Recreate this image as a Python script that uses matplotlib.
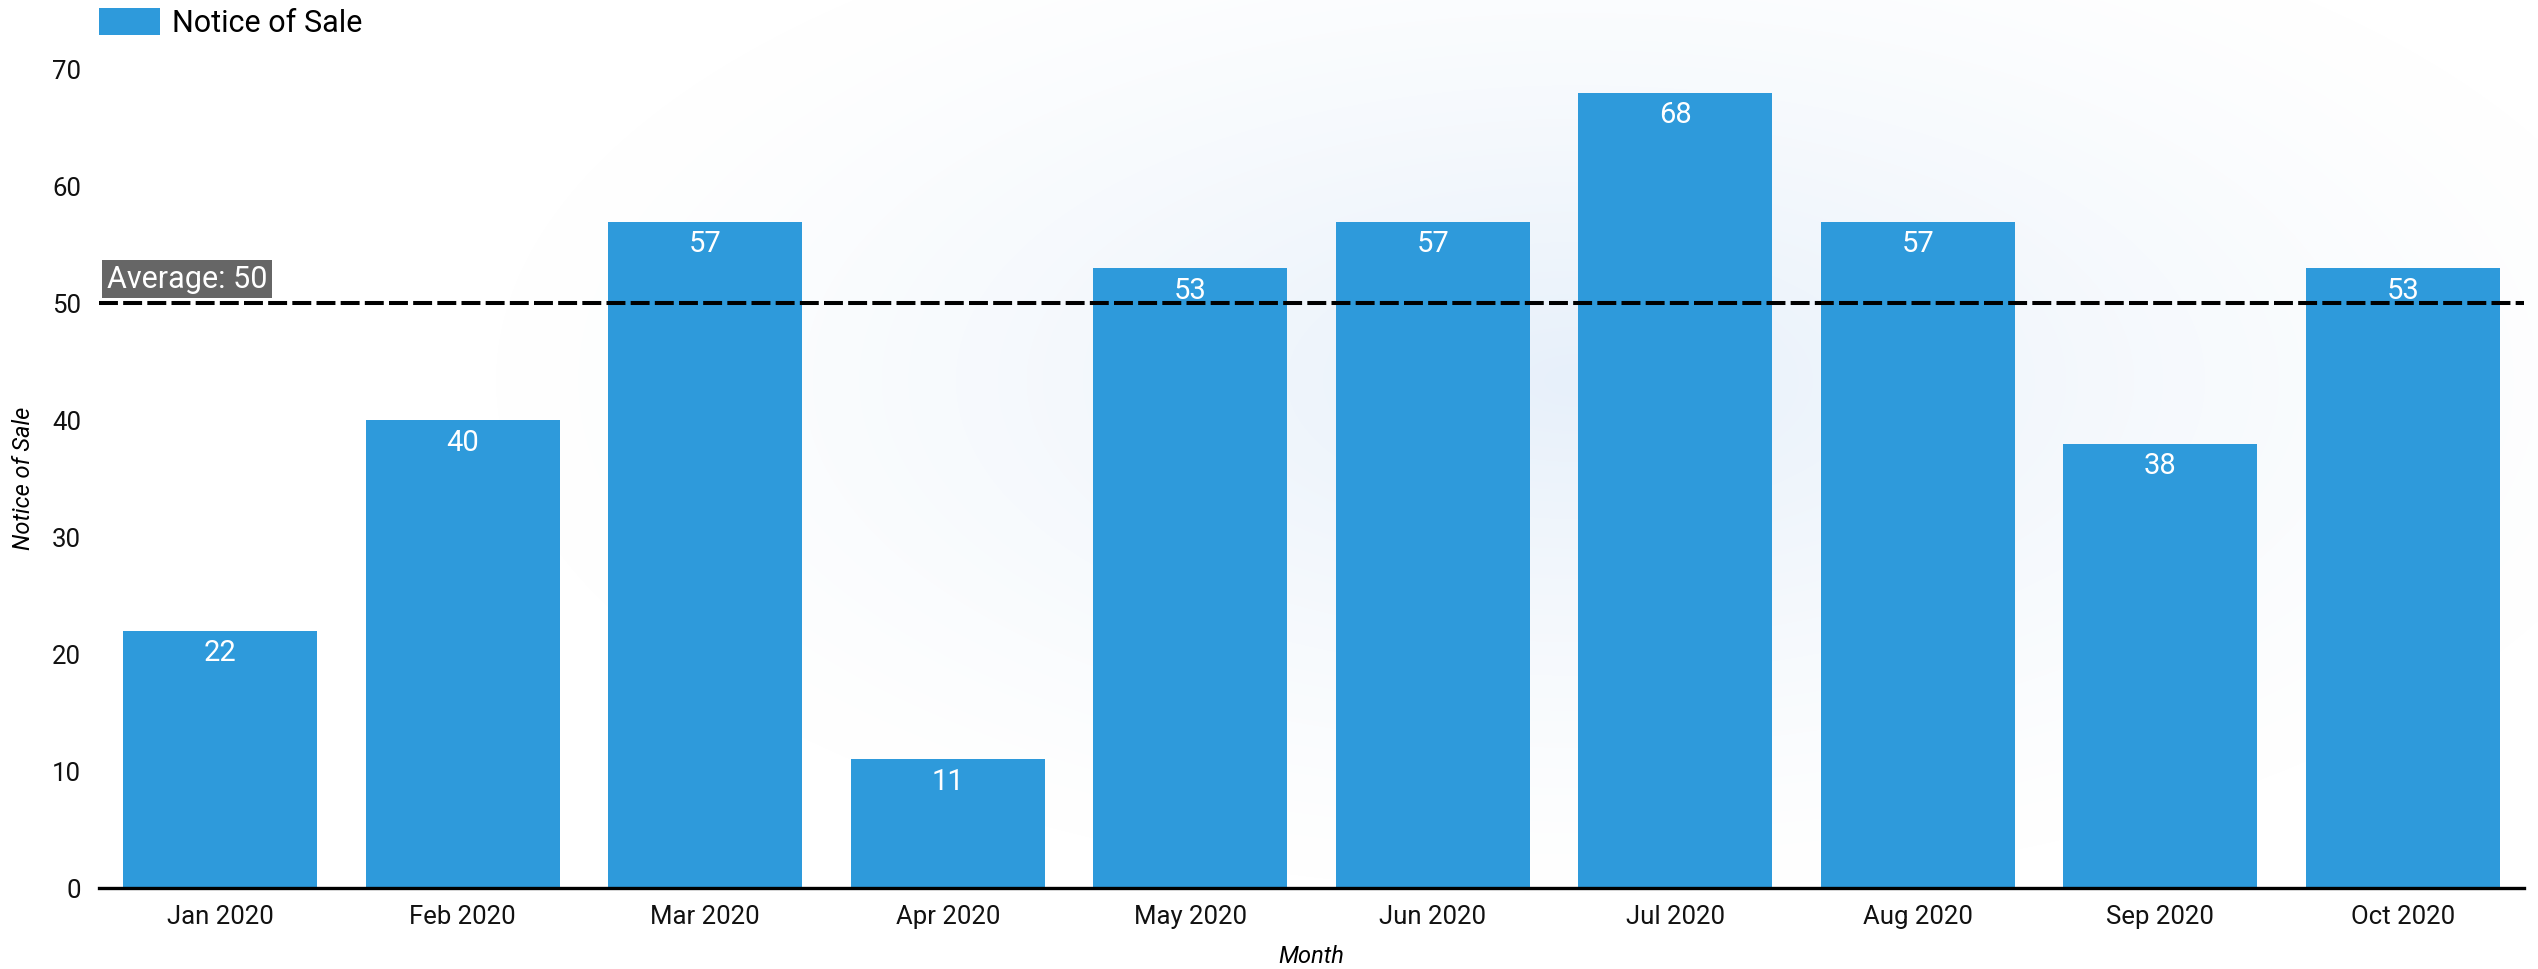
import numpy as np
import matplotlib.pyplot as plt
from matplotlib.colors import LinearSegmentedColormap

plt.rcParams['font.family'] = ['Roboto', 'DejaVu Sans']

months = ["Jan 2020", "Feb 2020", "Mar 2020", "Apr 2020", "May 2020",
          "Jun 2020", "Jul 2020", "Aug 2020", "Sep 2020", "Oct 2020"]
notices = [22, 40, 57, 11, 53, 57, 68, 57, 38, 53]
average = 50

bar_color = "#2E9ADB"

W, H = 2538, 969
fig = plt.figure(figsize=(W / 100, H / 100), dpi=100)

# faint radial glow behind the chart
bg = fig.add_axes([0, 0, 1, 1], zorder=0)
yy, xx = np.mgrid[0:H, 0:W]
d = np.sqrt(((xx - 1580) / 1100.0) ** 2 + ((yy - 380) / 520.0) ** 2)
glow = np.clip(1 - d, 0, 1) ** 1.3
cmap = LinearSegmentedColormap.from_list("glow", ["#ffffff", "#e7f0fa"])
bg.imshow(glow, cmap=cmap, aspect="auto", vmin=0, vmax=1)
bg.axis("off")

ax = fig.add_axes([99 / W, 1 - 888 / H, (2524 - 99) / W, (888 - 69.6) / H], zorder=1)
ax.patch.set_alpha(0)

x = np.arange(len(months))
ax.bar(x, notices, width=0.8, color=bar_color, label="Notice of Sale", zorder=2)

for xi, v in zip(x, notices):
    ax.annotate(str(v), (xi, v), xytext=(0, -6), textcoords="offset points",
                ha="center", va="top", color="white", fontsize=21, zorder=3)

ax.axhline(average, color="black", lw=2.9, dashes=(4.7, 1.3), zorder=4)
ax.annotate(f"Average: {average}", (0, average), xycoords=("axes fraction", "data"),
            xytext=(5.5, 7), textcoords="offset points", ha="left", va="bottom",
            color="white", fontsize=22, zorder=5,
            bbox=dict(boxstyle="square,pad=0.15", fc="#666666", ec="none"))

ax.set_xlim(-0.5, len(months) - 0.5)
ax.set_ylim(0, 70)
ax.set_yticks(range(0, 71, 10))
ax.set_xticks(x)
ax.set_xticklabels(months)
ax.tick_params(axis="both", length=0, labelsize=18.5, colors="#111111")
ax.tick_params(axis="y", pad=13)
ax.tick_params(axis="x", pad=12)

for s in ["top", "right", "left"]:
    ax.spines[s].set_visible(False)
ax.spines["bottom"].set_linewidth(2.4)
ax.spines["bottom"].set_zorder(6)

ax.set_xlabel("Month", fontstyle="italic", fontsize=17, labelpad=12)
ax.set_ylabel("Notice of Sale", fontstyle="italic", fontsize=17, labelpad=12)

ax.legend(loc="upper left", bbox_to_anchor=(99 / W, 1 - 8 / H),
          bbox_transform=fig.transFigure, frameon=False, fontsize=22,
          handlelength=2.0, handleheight=1.0, handletextpad=0.4,
          borderpad=0, borderaxespad=0)

fig.savefig("out.png", dpi=100)
